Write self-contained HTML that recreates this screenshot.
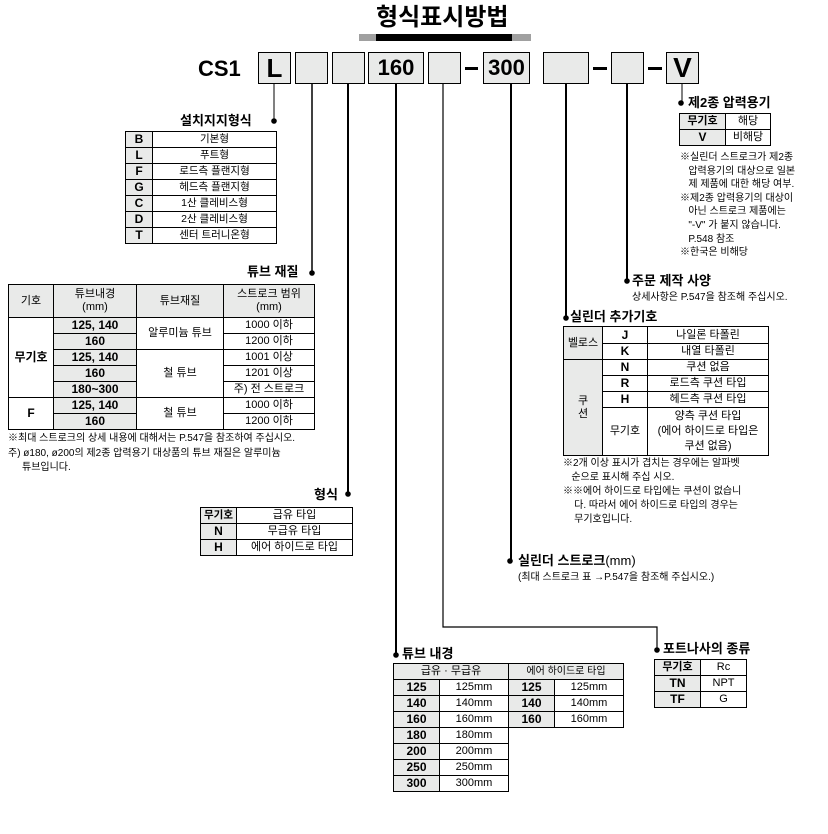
<!DOCTYPE html>
<html><head><meta charset="utf-8"><style>
*{margin:0;padding:0;box-sizing:border-box}
body{width:828px;height:834px;background:#fff;position:relative;overflow:hidden;font-family:"Liberation Sans","Noto Sans CJK KR","NanumGothic",sans-serif;color:#000}
.a{position:absolute;white-space:nowrap}
.box{position:absolute;top:52px;height:32px;border:1px solid #000;background:#e9eae9;font-weight:bold;text-align:center;line-height:30px}
.t{position:absolute;font-size:13px;font-weight:bold;line-height:14px;white-space:nowrap}
table{position:absolute;border-collapse:collapse;font-size:10.5px;table-layout:fixed}
td{border:1px solid #000;text-align:center;padding:0;line-height:13px;white-space:nowrap}
td.g{background:#e9eae9;font-weight:bold;font-size:12px}
.n{position:absolute;font-size:10px;line-height:14px;white-space:nowrap}
</style></head><body>
<div class="a" style="left:376px;top:4px;font-size:24px;font-weight:bold;line-height:28px">형식표시방법</div>
<div class="a" style="left:359px;top:34px;width:172px;height:7px;background:#a0a0a0"></div>
<div class="a" style="left:376px;top:34px;width:136px;height:7px;background:#000"></div>

<div class="a" style="left:198px;top:56px;font-size:22px;font-weight:bold;line-height:26px">CS1</div>
<div class="box" style="left:258px;width:33px;font-size:26px">L</div>
<div class="box" style="left:295px;width:33px"></div>
<div class="box" style="left:332px;width:33px"></div>
<div class="box" style="left:368px;width:56px;font-size:22px">160</div>
<div class="box" style="left:428px;width:33px"></div>
<div class="a" style="left:465px;top:67px;width:13px;height:3px;background:#000"></div>
<div class="box" style="left:483px;width:47px;font-size:22px">300</div>
<div class="box" style="left:543px;width:46px"></div>
<div class="a" style="left:593px;top:67px;width:14px;height:3px;background:#000"></div>
<div class="box" style="left:611px;width:33px"></div>
<div class="a" style="left:648px;top:67px;width:14px;height:3px;background:#000"></div>
<div class="box" style="left:666px;width:33px;font-size:28px">V</div>

<svg class="a" style="left:0;top:0" width="828" height="834">
<g stroke="#000" stroke-width="1.5" fill="none">
<line x1="274" y1="84" x2="274" y2="121" stroke-width="1"/>
<line x1="312" y1="84" x2="312" y2="273"/>
<line x1="348" y1="84" x2="348" y2="494" stroke-width="2"/>
<line x1="396" y1="84" x2="396" y2="655" stroke-width="2"/>
<polyline points="443,84 443,627 657,627 657,650" stroke-width="1.2"/>
<line x1="511" y1="84" x2="511" y2="561" stroke-width="2"/>
<line x1="566" y1="84" x2="566" y2="318" stroke-width="2"/>
<line x1="627" y1="84" x2="627" y2="281" stroke-width="2"/>
<line x1="682" y1="84" x2="682" y2="103" stroke-width="1"/>
</g>
<g fill="#000">
<circle cx="274" cy="121" r="2.8"/><circle cx="312" cy="273" r="2.8"/><circle cx="348" cy="494" r="2.8"/>
<circle cx="396" cy="655" r="2.8"/><circle cx="657" cy="650" r="2.8"/><circle cx="510" cy="561" r="2.8"/>
<circle cx="566" cy="318" r="2.8"/><circle cx="627" cy="281" r="2.8"/><circle cx="681" cy="103" r="2.8"/>
</g>
</svg>

<!-- 설치지지형식 -->
<div class="t" style="left:180px;top:114px">설치지지형식</div>
<table style="left:125px;top:131px;width:152px">
<col style="width:27px"><col>
<tr style="height:16px"><td class="g">B</td><td>기본형</td></tr>
<tr style="height:16px"><td class="g">L</td><td>푸트형</td></tr>
<tr style="height:16px"><td class="g">F</td><td>로드측 플랜지형</td></tr>
<tr style="height:16px"><td class="g">G</td><td>헤드측 플랜지형</td></tr>
<tr style="height:16px"><td class="g">C</td><td>1산 클레비스형</td></tr>
<tr style="height:16px"><td class="g">D</td><td>2산 클레비스형</td></tr>
<tr style="height:16px"><td class="g">T</td><td>센터 트러니온형</td></tr>
</table>

<!-- 튜브 재질 -->
<div class="t" style="left:247px;top:265px">튜브 재질</div>
<table style="left:8px;top:284px;width:307px;font-size:11px">
<col style="width:45px"><col style="width:83px"><col style="width:87px"><col>
<tr style="height:33px;background:#e9eae9"><td>기호</td><td>튜브내경<br>(mm)</td><td>튜브재질</td><td>스트로크 범위<br>(mm)</td></tr>
<tr style="height:16px"><td class="g" rowspan="5" style="background:#fff">무기호</td><td class="g">125, 140</td><td rowspan="2">알루미늄 튜브</td><td>1000 이하</td></tr>
<tr style="height:16px"><td class="g">160</td><td>1200 이하</td></tr>
<tr style="height:16px"><td class="g">125, 140</td><td rowspan="3">철 튜브</td><td>1001 이상</td></tr>
<tr style="height:16px"><td class="g">160</td><td>1201 이상</td></tr>
<tr style="height:16px"><td class="g">180~300</td><td>주) 전 스트로크</td></tr>
<tr style="height:16px"><td class="g" rowspan="2" style="background:#fff">F</td><td class="g">125, 140</td><td rowspan="2">철 튜브</td><td>1000 이하</td></tr>
<tr style="height:16px"><td class="g">160</td><td>1200 이하</td></tr>
</table>
<div class="n" style="left:8px;top:432px">※최대 스트로크의 상세 내용에 대해서는 P.547을 참조하여 주십시오.</div>
<div class="n" style="left:8px;top:447px">주) ø180, ø200의 제2종 압력용기 대상품의 튜브 재질은 알루미늄</div>
<div class="n" style="left:22px;top:461px">튜브입니다.</div>

<!-- 형식 -->
<div class="t" style="left:314px;top:488px">형식</div>
<table style="left:200px;top:507px;width:153px;font-size:11px">
<col style="width:36px"><col>
<tr style="height:16px"><td class="g" style="font-size:10.5px">무기호</td><td>급유 타입</td></tr>
<tr style="height:16px"><td class="g">N</td><td>무급유 타입</td></tr>
<tr style="height:16px"><td class="g">H</td><td>에어 하이드로 타입</td></tr>
</table>

<!-- 제2종 -->
<div class="t" style="left:688px;top:96px">제2종 압력용기</div>
<table style="left:679px;top:113px;width:92px;font-size:11px">
<col style="width:46px"><col>
<tr style="height:16px"><td class="g" style="font-size:11px">무기호</td><td>해당</td></tr>
<tr style="height:16px"><td class="g">V</td><td>비해당</td></tr>
</table>
<div class="n" style="left:680px;top:151px;line-height:13.6px">※실린더 스트로크가 제2종<br>&nbsp;&nbsp;&nbsp;압력용기의 대상으로 일본<br>&nbsp;&nbsp;&nbsp;제 제품에 대한 해당 여부.<br>※제2종 압력용기의 대상이<br>&nbsp;&nbsp;&nbsp;아닌 스트로크 제품에는<br>&nbsp;&nbsp;&nbsp;"-V" 가 붙지 않습니다.<br>&nbsp;&nbsp;&nbsp;P.548 참조<br>※한국은 비해당</div>

<!-- 주문 제작 사양 -->
<div class="t" style="left:632px;top:274px">주문 제작 사양</div>
<div class="n" style="left:632px;top:291px">상세사항은 P.547을 참조해 주십시오.</div>

<!-- 실린더 추가기호 -->
<div class="t" style="left:570px;top:310px">실린더 추가기호</div>
<table style="left:563px;top:326px;width:206px;font-size:11px">
<col style="width:39px"><col style="width:45px"><col>
<tr style="height:17px"><td class="g" rowspan="2" style="font-weight:normal;font-size:11px">벨로스</td><td class="g" style="background:#fff">J</td><td>나일론 타폴린</td></tr>
<tr style="height:16px"><td class="g" style="background:#fff">K</td><td>내열 타폴린</td></tr>
<tr style="height:16px"><td class="g" rowspan="4" style="font-weight:normal;font-size:11px">쿠<br>션</td><td class="g" style="background:#fff">N</td><td>쿠션 없음</td></tr>
<tr style="height:16px"><td class="g" style="background:#fff">R</td><td>로드측 쿠션 타입</td></tr>
<tr style="height:16px"><td class="g" style="background:#fff">H</td><td>헤드측 쿠션 타입</td></tr>
<tr style="height:48px"><td style="font-size:11px">무기호</td><td style="line-height:15px">양측 쿠션 타입<br>(에어 하이드로 타입은<br>쿠션 없음)</td></tr>
</table>
<div class="n" style="left:563px;top:457px">※2개 이상 표시가 겹치는 경우에는 알파벳<br>&nbsp;&nbsp;&nbsp;순으로 표시해 주십 시오.<br>※※에어 하이드로 타입에는 쿠션이 없습니<br>&nbsp;&nbsp;&nbsp;&nbsp;다. 따라서 에어 하이드로 타입의 경우는<br>&nbsp;&nbsp;&nbsp;&nbsp;무기호입니다.</div>

<!-- 실린더 스트로크 -->
<div class="t" style="left:518px;top:554px">실린더 스트로크<span style="font-weight:normal">(mm)</span></div>
<div class="n" style="left:518px;top:571px">(최대 스트로크 표 →P.547을 참조해 주십시오.)</div>

<!-- 튜브 내경 -->
<div class="t" style="left:402px;top:647px">튜브 내경</div>
<table style="left:393px;top:663px;width:116px;font-size:11px">
<col style="width:46px"><col>
<tr style="height:16px;background:#e9eae9"><td colspan="2">급유 · 무급유</td></tr>
<tr style="height:16px"><td class="g">125</td><td>125mm</td></tr>
<tr style="height:16px"><td class="g">140</td><td>140mm</td></tr>
<tr style="height:16px"><td class="g">160</td><td>160mm</td></tr>
<tr style="height:16px"><td class="g">180</td><td>180mm</td></tr>
<tr style="height:16px"><td class="g">200</td><td>200mm</td></tr>
<tr style="height:16px"><td class="g">250</td><td>250mm</td></tr>
<tr style="height:16px"><td class="g">300</td><td>300mm</td></tr>
</table>
<table style="left:508px;top:663px;width:116px;font-size:11px">
<col style="width:46px"><col>
<tr style="height:16px;background:#e9eae9"><td colspan="2" style="font-size:10px">에어 하이드로 타입</td></tr>
<tr style="height:16px"><td class="g">125</td><td>125mm</td></tr>
<tr style="height:16px"><td class="g">140</td><td>140mm</td></tr>
<tr style="height:16px"><td class="g">160</td><td>160mm</td></tr>
</table>

<!-- 포트나사 -->
<div class="t" style="left:663px;top:642px">포트나사의 종류</div>
<table style="left:654px;top:659px;width:93px;font-size:11px">
<col style="width:46px"><col>
<tr style="height:16px"><td class="g" style="font-size:11px">무기호</td><td>Rc</td></tr>
<tr style="height:16px"><td class="g">TN</td><td>NPT</td></tr>
<tr style="height:16px"><td class="g">TF</td><td>G</td></tr>
</table>
</body></html>
